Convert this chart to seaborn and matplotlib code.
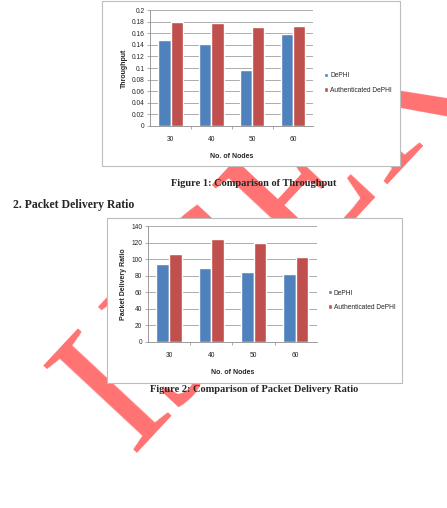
import matplotlib
matplotlib.use("Agg")
import matplotlib.pyplot as plt
import seaborn as sns
import pandas as pd
from matplotlib.patches import Rectangle

# Values
nodes = ["30", "40", "50", "60"]
series = ["DePHI", "Authenticated DePHI"]
throughput_dephi = [0.148, 0.142, 0.097, 0.158]
throughput_auth = [0.179, 0.178, 0.171, 0.172]
pdr_dephi = [94, 89, 85, 82.5]
pdr_auth = [106, 124, 120, 102.5]
throughput_ticks = [0, 0.02, 0.04, 0.06, 0.08, 0.1, 0.12, 0.14, 0.16, 0.18, 0.2]
pdr_ticks = [0, 20, 40, 60, 80, 100, 120, 140]

colors = ["#4F81BD", "#C0504D"]

sns.set_style("white")
plt.rcParams["font.family"] = ["Liberation Sans", "DejaVu Sans"]


def long_table(a, b):
    return pd.DataFrame({
        "Nodes": nodes * 2,
        "Series": [series[0]] * 4 + [series[1]] * 4,
        "Value": a + b,
    })


def draw_chart(fig, ax_rect, box_rect, df, ylabel, ticks, ylim, tick_fmt, leg_y):
    # white chart frame, sits on top of the watermark
    fig.patches.append(Rectangle(box_rect[:2], box_rect[2], box_rect[3], transform=fig.transFigure,
                                 facecolor="white", edgecolor="#bdbdbd", linewidth=0.8, zorder=-1))
    ax = fig.add_axes(ax_rect)
    sns.barplot(data=df, x="Nodes", y="Value", hue="Series", palette=colors, width=0.6,
                ax=ax, saturation=1, zorder=3)
    ax.set_ylim(*ylim)
    ax.set_yticks(ticks)
    ax.set_yticklabels([tick_fmt(t) for t in ticks])
    ax.set_xticks([0.5, 1.5, 2.5], minor=True)
    ax.grid(axis="y", color="#8c8c8c", linewidth=0.5, zorder=0)
    ax.set_axisbelow(True)
    for s in ["top", "right"]:
        ax.spines[s].set_visible(False)
    for s in ["left", "bottom"]:
        ax.spines[s].set_color("#8c8c8c")
        ax.spines[s].set_linewidth(0.6)
    ax.tick_params(axis="y", labelsize=4.8, length=2, width=0.5, color="#8c8c8c", pad=2, left=True)
    ax.tick_params(axis="x", which="major", labelsize=4.8, bottom=False, pad=4)
    ax.tick_params(axis="x", which="minor", bottom=True, length=2, width=0.5, color="#8c8c8c")
    ax.set_xlabel("No. of Nodes", fontsize=5, fontweight="bold", labelpad=7)
    ax.set_ylabel(ylabel, fontsize=5, fontweight="bold", labelpad=3)
    ax.legend(loc="center left", bbox_to_anchor=(1.03, leg_y), frameon=False, fontsize=4.8,
              handlelength=0.6, handleheight=0.6, handletextpad=0.3, labelspacing=1.1)
    return ax


fig = plt.figure(figsize=(4.47, 5.08), dpi=100)

draw_chart(fig, [0.336, 0.752, 0.365, 0.228], [0.228, 0.673, 0.667, 0.325],
           long_table(throughput_dephi, throughput_auth), "Throughput",
           throughput_ticks, (0, 0.2), lambda t: "0" if t == 0 else f"{t:g}", 0.37)

draw_chart(fig, [0.331, 0.327, 0.378, 0.228], [0.239, 0.246, 0.660, 0.325],
           long_table(pdr_dephi, pdr_auth), "Packet Delivery Ratio",
           pdr_ticks, (0, 140), lambda t: f"{t:g}", 0.36)

serif = ["Liberation Serif", "DejaVu Serif"]
fig.text(0.568, 1 - 183 / 508, "Figure 1: Comparison of Throughput", ha="center", va="center",
         fontsize=7.5, fontweight="bold", family=serif, zorder=3)
fig.text(0.03, 1 - 205 / 508, "2. Packet Delivery Ratio", ha="left", va="center",
         fontsize=8.5, fontweight="bold", family=serif, zorder=3)
fig.text(0.568, 1 - 389 / 508, "Figure 2: Comparison of Packet Delivery Ratio", ha="center", va="center",
         fontsize=7.5, fontweight="bold", family=serif, zorder=3)

# red diagonal watermark behind the chart frames
fig.text(0.595, 0.53, "IJSER", ha="center", va="center", rotation=47, rotation_mode="anchor",
         fontsize=140, color="#FF7272", family=serif, zorder=-2)

fig.savefig("out.png", dpi=100)
